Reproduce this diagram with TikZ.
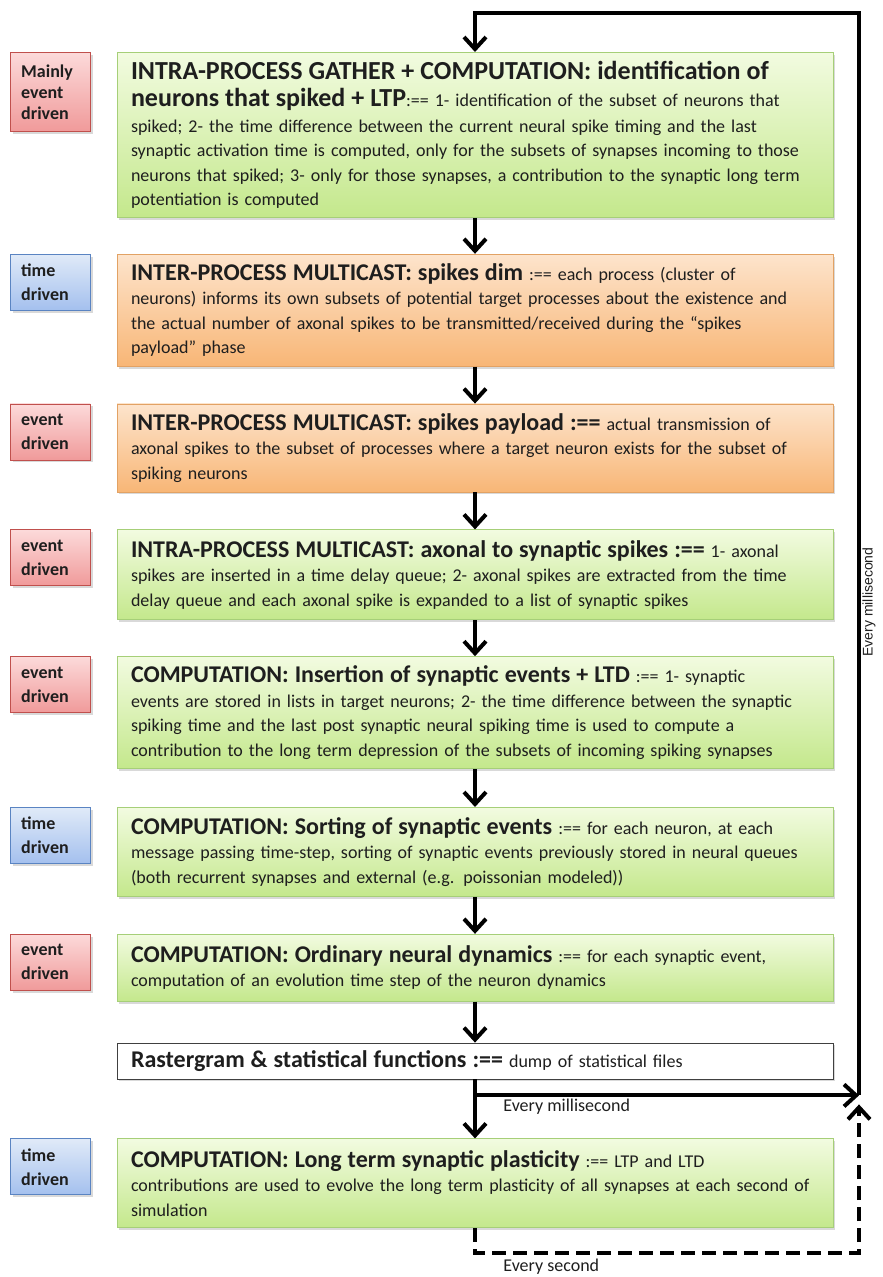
\documentclass[tikz,border=0pt]{standalone}
\usepackage{fontspec}
\setmainfont{Carlito}
\newfontfamily\sidefont{Liberation Sans}
\usepackage{tikz}
\usetikzlibrary{positioning,arrows.meta,shadows}

\definecolor{greentop}{HTML}{F2FBE0}
\definecolor{greenbot}{HTML}{C4E88C}
\definecolor{greenline}{HTML}{A6CF78}
\definecolor{orangetop}{HTML}{FDE4CC}
\definecolor{orangebot}{HTML}{F8B676}
\definecolor{orangeline}{HTML}{E2A264}
\definecolor{redtop}{HTML}{FCDADA}
\definecolor{redbot}{HTML}{F09A9A}
\definecolor{redline}{HTML}{C0504D}
\definecolor{bluetop}{HTML}{E0EAF8}
\definecolor{bluebot}{HTML}{A4C0EE}
\definecolor{blueline}{HTML}{5A84C2}
\definecolor{inktext}{HTML}{1E1E1E}

\newcommand{\ttl}{\fontsize{12}{12.25}\selectfont\bfseries}
\newcommand{\bigttl}{\fontsize{13}{13}\selectfont\bfseries}

\tikzstyle{box} = [rectangle, text width=344pt, inner xsep=7pt, inner ysep=2pt, align=left, text=inktext, font=\fontsize{9}{12.25}\selectfont, drop shadow={shadow xshift=1.2pt, shadow yshift=-1.2pt, opacity=0.3}]
\tikzstyle{phase} = [box, draw=greenline, top color=greentop, bottom color=greenbot]
\tikzstyle{exchange} = [box, draw=orangeline, top color=orangetop, bottom color=orangebot]
\tikzstyle{filebox} = [box, draw=black!75, fill=white]
\tikzstyle{tag} = [rectangle, text width=29pt, inner xsep=5.5pt, minimum height=28pt, align=left, text=inktext, font=\fontsize{9}{12}\selectfont\bfseries, drop shadow={shadow xshift=1.2pt, shadow yshift=-1.2pt, opacity=0.3}]
\tikzstyle{eventtag} = [tag, draw=redline, top color=redtop, bottom color=redbot]
\tikzstyle{timetag} = [tag, draw=blueline, top color=bluetop, bottom color=bluebot]
\tikzstyle{arrow} = [line width=2pt, -{Straight Barb[length=6pt,width=11pt]}]
\tikzstyle{note} = [font=\fontsize{9}{11}\selectfont, text=inktext, inner sep=0pt]

\begin{document}
\begin{tikzpicture}[x=0.5pt, y=-0.5pt] % one unit = one pixel of the sketch
\useasboundingbox (0,0) rectangle (882,1277);

% Place the phase boxes
\node (gather)     [phase,    anchor=north, minimum height=82.5pt] at (475,52)
  {{\bigttl INTRA-PROCESS GATHER + COMPUTATION: identification of}\\[1.5pt]
   {\bigttl neurons that spiked + LTP}:== 1- identification of the subset of neurons that\\[0.5pt]
   spiked; 2- the time difference between the current neural spike timing and the last\\
   synaptic activation time is computed, only for the subsets of synapses incoming to those\\
   neurons that spiked; 3- only for those synapses, a contribution to the synaptic long term\\
   potentiation is computed};
\node (dim)        [exchange, below=18pt of gather,    minimum height=56pt]
  {{\ttl INTER-PROCESS MULTICAST: spikes dim} :== each process (cluster of\\
   neurons) informs its own subsets of potential target processes about the existence and\\
   the actual number of axonal spikes to be transmitted/received during the “spikes\\
   payload” phase};
\node (payload)    [exchange, below=18.5pt of dim,     minimum height=44pt]
  {{\ttl INTER-PROCESS MULTICAST: spikes payload :==} actual transmission of\\
   axonal spikes to the subset of processes where a target neuron exists for the subset of\\
   spiking neurons};
\node (multicast)  [phase,    below=18.5pt of payload, minimum height=45pt]
  {{\ttl INTRA-PROCESS MULTICAST: axonal to synaptic spikes :==} 1- axonal\\
   spikes are inserted in a time delay queue; 2- axonal spikes are extracted from the time\\
   delay queue and each axonal spike is expanded to a list of synaptic spikes};
\node (insertion)  [phase,    below=18pt of multicast, minimum height=56pt]
  {{\ttl COMPUTATION: Insertion of synaptic events + LTD} :== 1- synaptic\\
   events are stored in lists in target neurons; 2- the time difference between the synaptic\\
   spiking time and the last post synaptic neural spiking time is used to compute a\\
   contribution to the long term depression of the subsets of incoming spiking synapses};
\node (sorting)    [phase,    below=19pt of insertion, minimum height=44.5pt]
  {{\ttl COMPUTATION: Sorting of synaptic events} :== for each neuron, at each\\
   message passing time-step, sorting of synaptic events previously stored in neural queues\\
   (both recurrent synapses and external (e.g. poissonian modeled))};
\node (dynamics)   [phase,    below=18.5pt of sorting, minimum height=33.5pt]
  {{\ttl COMPUTATION: Ordinary neural dynamics} :== for each synaptic event,\\
   computation of an evolution time step of the neuron dynamics};
\node (raster)     [filebox,  below=20.5pt of dynamics, minimum height=18pt]
  {{\ttl Rastergram \& statistical functions :==} dump of statistical files};
\node (plasticity) [phase,    below=29.5pt of raster,  minimum height=44.5pt]
  {{\ttl COMPUTATION: Long term synaptic plasticity} :== LTP and LTD\\
   contributions are used to evolve the long term plasticity of all synapses at each second of\\
   simulation};

% Place the driving-mode tags
\node (gather_tag)     [eventtag, left=13pt of gather.north west,     anchor=north east, minimum height=39.5pt, font=\fontsize{9}{10.5}\selectfont\bfseries] {Mainly\\event\\driven};
\node (dim_tag)        [timetag,  left=13pt of dim.north west,        anchor=north east] {time\\driven};
\node (payload_tag)    [eventtag, left=13pt of payload.north west,    anchor=north east] {event\\driven};
\node (multicast_tag)  [eventtag, left=13pt of multicast.north west,  anchor=north east] {event\\driven};
\node (insertion_tag)  [eventtag, left=13pt of insertion.north west,  anchor=north east] {event\\driven};
\node (sorting_tag)    [timetag,  left=13pt of sorting.north west,    anchor=north east] {time\\driven};
\node (dynamics_tag)   [eventtag, left=13pt of dynamics.north west,   anchor=north east] {event\\driven};
\node (plasticity_tag) [timetag,  left=13pt of plasticity.north west, anchor=north east] {time\\driven};

% Connect the boxes with arrows
\draw [arrow] (gather)    -- (dim);
\draw [arrow] (dim)       -- (payload);
\draw [arrow] (payload)   -- (multicast);
\draw [arrow] (multicast) -- (insertion);
\draw [arrow] (insertion) -- (sorting);
\draw [arrow] (sorting)   -- (dynamics);
\draw [arrow] (dynamics)  -- (raster);
\draw [arrow] (raster)    -- (plasticity);

% Feedback loops
\coordinate (split)    at ([yshift=-8pt]raster.south);
\coordinate (loop_top) at (859,13);
\coordinate (join)     at (split -| loop_top);
\coordinate (dash_low) at ([yshift=-12.5pt]plasticity.south);
\coordinate (dash_end) at ([yshift=-4.5pt]join);
\draw [arrow] (split) -- (join);
\draw [arrow] (join) -- (loop_top) -| (gather.north);
\draw [arrow, dash pattern=on 7pt off 3.5pt] (plasticity.south) -- (dash_low) -| (dash_end);

% Loop labels
\node (ms_note)   [note, anchor=west] at (503,1107) {Every millisecond};
\node (s_note)    [note, anchor=west] at (503,1267) {Every second};
\node (loop_note) [note, font=\sidefont\fontsize{7}{8}\selectfont, rotate=90] at (869,602) {Every millisecond};

\end{tikzpicture}
\end{document}
